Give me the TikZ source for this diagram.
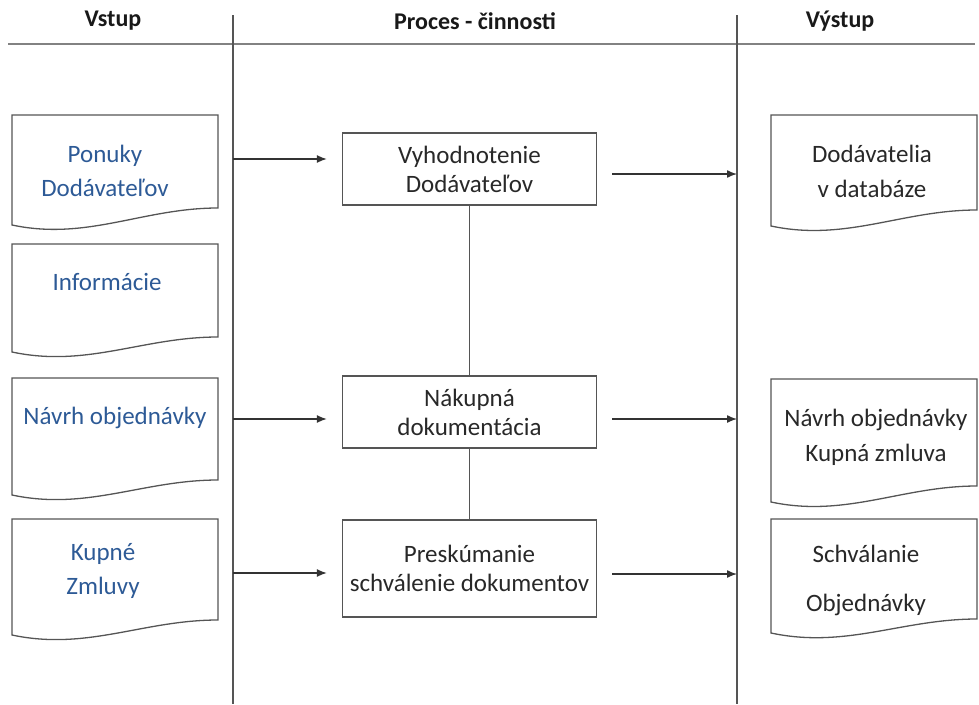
\documentclass[tikz,border=0pt]{standalone}
\usepackage{fontspec}
\setmainfont{Carlito}
\usetikzlibrary{arrows.meta}

\definecolor{edge}{RGB}{85,85,85}
\definecolor{inblue}{RGB}{45,90,150}
\definecolor{txt}{RGB}{40,40,40}
\definecolor{rulegray}{RGB}{130,130,130}

\tikzset{
  docline/.style={draw=edge, line width=1.3pt},
  rulerline/.style={draw=rulegray, line width=2.2pt},
  lane/.style={draw=edge, line width=1.1pt},
  procbox/.style={draw=edge, line width=1.3pt, align=center, text=txt,
    inner sep=0pt, font=\fontsize{25}{29}\selectfont},
  head/.style={font=\bfseries\fontsize{24}{26}\selectfont, text=black!90},
  inlabel/.style={align=center, text=inblue, font=\fontsize{25}{34}\selectfont},
  outlabel/.style={align=center, text=txt, font=\fontsize{25}{35}\selectfont},
  flow/.style={draw=black!80, line width=1.4pt, -{Latex[length=10pt,width=8pt]}},
  link/.style={draw=edge, line width=1.1pt},
}

% document symbol: left x, top y, right x, right bottom y, left bottom y
\newcommand\docshape[5]{%
  \path[docline] (#1,#2) -- (#3,#2) -- (#3,#4)
    .. controls +(-75,0) and +(75,16) .. (#1,#5) -- cycle;}

\begin{document}
\begin{tikzpicture}[x=1pt,y=-1pt]
\useasboundingbox (0,0) rectangle (979,704);

% column headings and lane separators
\node[head] (hin)  at (113,21) {Vstup};
\node[head] (hpro) at (475,21) {Proces - činnosti};
\node[head] (hout) at (840,21) {Výstup};

\coordinate (hl) at (8,44);
\coordinate (hr) at (975,44);
\draw[rulerline] (hl) -- (hr);

\coordinate (v1t) at (233,15);
\coordinate (v1b) at (233,704);
\coordinate (v2t) at (737,15);
\coordinate (v2b) at (737,704);
\draw[lane] (v1t) -- (v1b);
\draw[lane] (v2t) -- (v2b);

% inputs
\docshape{12}{115}{218}{208}{225}
\docshape{12}{244}{218}{337}{352}
\docshape{12}{378}{218}{480}{495}
\docshape{12}{519}{218}{620}{635}
\node[inlabel] (in1) at (105,171) {Ponuky\\Dodávateľov};
\node[inlabel] (in2) at (107,282) {Informácie};
\node[inlabel] (in3) at (115,418) {Návrh objednávky};
\node[inlabel] (in4) at (103,571) {Kupné\\Zmluvy};

% process steps
\node[procbox, minimum width=254pt, minimum height=72pt] (p1) at (469.5,169)
  {Vyhodnotenie\\Dodávateľov};
\node[procbox, minimum width=254pt, minimum height=72pt] (p2) at (469.5,412)
  {\rule{0pt}{12pt}Nákupná\\dokumentácia};
\node[procbox, minimum width=254pt, minimum height=97pt] (p3) at (469.5,568.5)
  {Preskúmanie\\schválenie dokumentov};
\draw[link] (p1.south) -- (p2.north);
\draw[link] (p2.south) -- (p3.north);

% outputs
\docshape{771}{115}{977}{210}{226}
\docshape{771}{379}{977}{486}{502}
\docshape{771}{519}{977}{619}{633}
\node[outlabel] (out1) at (872,171) {Dodávatelia\\v databáze};
\node[outlabel] (out2) at (876,437) {Návrh objednávky\\Kupná zmluva};
\node[outlabel, font=\fontsize{25}{49}\selectfont] (out3) at (866,580)
  {Schválanie\\Objednávky};

% flows into and out of the process lane
\coordinate (a1) at (233,159);
\coordinate (a2) at (233,419);
\coordinate (a3) at (233,573);
\coordinate (b1) at (737,174);
\coordinate (b2) at (737,419);
\coordinate (b3) at (737,574);
\draw[flow, shorten >=15pt] (a1) -- (a1 -| p1.west);
\draw[flow, shorten >=15pt] (a2) -- (a2 -| p2.west);
\draw[flow, shorten >=15pt] (a3) -- (a3 -| p3.west);
\draw[flow, shorten <=15pt] (b1 -| p1.east) -- (b1);
\draw[flow, shorten <=15pt] (b2 -| p2.east) -- (b2);
\draw[flow, shorten <=15pt] (b3 -| p3.east) -- (b3);
\end{tikzpicture}
\end{document}
